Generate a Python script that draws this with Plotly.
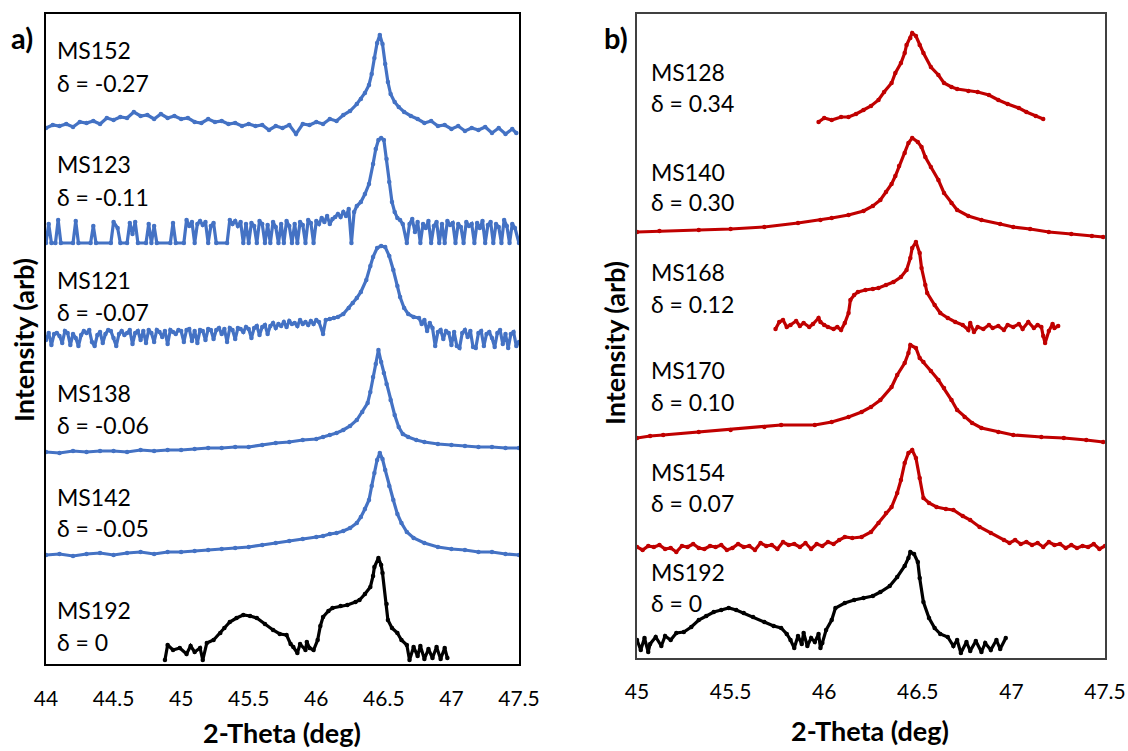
import plotly.graph_objects as go

# ---------------- Panel a) data (2-theta in deg, stacked intensity in arb units) ----------------
ms152_x = [44.00,44.05,44.10,44.15,44.20,44.25,44.30,44.35,44.40,44.45,44.50,44.55,44.60,44.65,44.70,44.75,44.80,44.85,44.90,44.95,
           45.00,45.05,45.10,45.15,45.20,45.25,45.30,45.35,45.40,45.45,45.50,45.55,45.60,45.65,45.70,45.75,45.80,45.85,45.90,45.95,
           46.00,46.05,46.10,46.15,46.20,46.25,46.30,46.33,46.36,46.39,46.41,46.43,46.45,46.47,46.49,46.51,46.53,46.55,46.58,46.61,
           46.65,46.70,46.75,46.80,46.85,46.90,46.95,47.00,47.05,47.10,47.15,47.20,47.25,47.30,47.35,47.40,47.45,47.48]
ms152_y = [536,539,538,540,537,542,541,543,540,546,544,547,546,552,548,549,545,550,546,548,
           545,546,542,541,545,542,543,540,541,538,540,538,539,534,538,536,539,530,540,539,
           542,540,545,543,549,553,560,565,571,579,590,606,621,629,620,600,582,570,562,557,
           552,548,545,541,543,538,539,535,538,533,536,534,537,531,536,530,535,531]

ms123_x = [44.00,44.02,44.04,44.07,44.09,44.11,44.20,44.22,44.24,44.33,44.35,44.37,44.48,44.50,44.53,44.55,44.60,44.62,44.64,44.66,
           44.68,44.74,44.76,44.78,44.80,44.82,44.92,44.94,44.96,45.02,45.04,45.06,45.08,45.10,45.12,45.14,45.16,45.18,45.20,45.22,
           45.24,45.26,45.34,45.36,45.38,45.40,45.42,45.44,45.46,45.48,45.50,45.52,45.54,45.56,45.58,45.60,45.62,45.64,45.66,45.68,
           45.70,45.72,45.74,45.76,45.78,45.80,45.82,45.84,45.86,45.88,45.90,45.92,45.94,45.96,45.98,46.00,46.02,46.04,46.06,46.08,
           46.10,46.12,46.14,46.16,46.18,46.20,46.22,46.24,46.26,46.28,46.30,46.33,46.36,46.39,46.42,46.44,46.46,46.48,46.50,46.52,
           46.54,46.56,46.58,46.60,46.62,46.64,46.67,46.69,46.71,46.73,46.75,46.77,46.79,46.81,46.83,46.85,46.87,46.89,46.91,46.93,
           46.95,46.97,46.99,47.01,47.03,47.05,47.07,47.09,47.11,47.13,47.15,47.17,47.19,47.21,47.23,47.25,47.27,47.29,47.31,47.33,
           47.35,47.37,47.39,47.41,47.43,47.45,47.47,47.50]
ms123_y = [421,440,421,421,444,421,421,443,421,421,438,421,421,442,436,421,421,441,430,442,
           421,421,440,421,438,421,421,441,421,421,444,438,442,421,440,443,439,442,421,438,
           441,421,421,444,440,443,438,442,421,440,421,441,438,421,443,440,421,439,421,442,
           437,421,440,421,443,438,421,440,421,442,439,421,444,441,421,443,440,446,442,448,
           440,445,447,450,447,452,448,455,421,452,458,462,470,480,500,515,524,526,524,505,
           482,462,452,446,444,440,421,440,445,432,442,421,440,436,443,421,438,442,421,440,
           421,443,439,441,421,440,437,421,442,438,440,421,441,436,443,421,439,442,421,440,
           437,421,444,438,421,440,436,421]

ms121_x = [44.00,44.02,44.04,44.06,44.08,44.10,44.12,44.14,44.16,44.18,44.20,44.22,44.24,44.26,44.28,44.30,44.32,44.34,44.36,44.38,
           44.40,44.42,44.44,44.46,44.48,44.50,44.52,44.54,44.56,44.58,44.60,44.62,44.64,44.66,44.68,44.70,44.72,44.74,44.76,44.78,
           44.80,44.82,44.84,44.86,44.88,44.90,44.92,44.94,44.96,44.98,45.00,45.02,45.04,45.06,45.08,45.10,45.12,45.14,45.16,45.18,
           45.20,45.22,45.24,45.26,45.28,45.30,45.32,45.34,45.36,45.38,45.40,45.42,45.44,45.46,45.48,45.50,45.52,45.54,45.56,45.58,
           45.60,45.62,45.64,45.66,45.68,45.70,45.72,45.74,45.76,45.78,45.80,45.82,45.84,45.86,45.88,45.90,45.92,45.94,45.96,45.98,
           46.00,46.02,46.05,46.07,46.10,46.13,46.16,46.20,46.24,46.27,46.30,46.33,46.37,46.40,46.42,46.45,46.48,46.51,46.54,46.57,
           46.60,46.62,46.65,46.68,46.72,46.76,46.78,46.80,46.82,46.84,46.86,46.88,46.90,46.92,46.94,46.96,46.98,47.00,47.02,47.04,
           47.06,47.08,47.10,47.12,47.14,47.16,47.18,47.20,47.22,47.24,47.26,47.28,47.30,47.32,47.34,47.36,47.38,47.40,47.42,47.44,
           47.46,47.48,47.50]
ms121_y = [324,331,319,330,331,328,321,333,331,319,330,326,318,329,333,331,334,322,318,329,
           332,321,330,334,333,326,318,330,333,329,331,334,320,331,333,324,333,321,334,331,
           322,334,332,327,333,320,334,332,330,334,333,322,334,335,323,333,321,334,333,324,
           335,334,325,334,336,330,335,322,336,334,325,336,335,332,337,335,326,336,338,329,
           337,339,330,338,341,336,340,338,342,337,343,340,341,338,344,340,342,339,343,340,
           344,342,330,344,345,346,347,350,356,361,366,372,384,398,407,416,418,417,408,394,
           378,367,356,350,347,346,340,344,333,341,336,318,332,334,325,333,331,319,332,318,
           316,331,334,327,333,317,316,331,333,318,330,332,326,317,331,334,320,330,316,330,
           332,318,322]

ms138_x = [44.00,44.10,44.20,44.30,44.40,44.50,44.60,44.70,44.80,44.90,45.00,45.10,45.20,45.30,45.40,45.50,45.60,45.70,45.80,45.90,
           46.00,46.05,46.10,46.15,46.20,46.25,46.30,46.34,46.38,46.40,46.42,46.44,46.46,46.48,46.50,46.52,46.55,46.58,46.61,46.64,
           46.68,46.74,46.80,46.90,47.00,47.10,47.20,47.30,47.40,47.50]
ms138_y = [212,211,213,212,213,213,212,214,213,214,214,215,216,216,217,217,219,221,222,224,
           225,227,229,231,234,238,244,252,261,272,287,300,314,302,291,280,264,249,237,230,
           227,224,222,220,219,218,217,217,216,216]

ms142_x = [44.00,44.10,44.20,44.30,44.40,44.50,44.60,44.70,44.80,44.90,45.00,45.10,45.20,45.30,45.40,45.50,45.60,45.70,45.80,45.90,
           46.00,46.05,46.10,46.15,46.20,46.25,46.30,46.33,46.36,46.39,46.41,46.43,46.45,46.47,46.49,46.51,46.54,46.57,46.60,46.63,
           46.67,46.72,46.80,46.90,47.00,47.10,47.20,47.30,47.40,47.50]
ms142_y = [109,110,108,110,111,109,111,112,110,112,112,113,114,115,116,117,119,121,123,125,
           127,128,130,131,133,136,141,147,155,164,178,191,204,211,205,194,178,164,150,141,
           132,126,121,117,115,114,112,112,110,109]

ms192a_x = [44.88,44.90,44.94,44.99,45.04,45.07,45.10,45.14,45.16,45.19,45.24,45.29,45.32,45.36,45.41,45.46,45.51,45.56,45.62,45.68,
            45.73,45.78,45.81,45.83,45.86,45.88,45.92,45.93,45.95,45.98,46.01,46.03,46.05,46.09,46.12,46.18,46.23,46.29,46.32,46.36,
            46.40,46.42,46.43,46.46,46.48,46.49,46.52,46.53,46.56,46.60,46.63,46.67,46.69,46.72,46.75,46.77,46.80,46.83,46.86,46.89,
            46.92,46.95,46.97]
ms192a_y = [4,19,14,16,10,18,12,16,4,21,24,31,36,42,46,49,48,46,40,34,
            30,29,20,17,11,20,14,22,16,14,24,38,47,53,56,58,59,62,64,70,
            77,88,97,106,99,91,60,44,36,31,24,19,4,17,8,18,5,15,6,17,
            5,16,6]

# ---------------- Panel b) data ----------------
ms128_x = [45.97,46.00,46.04,46.09,46.13,46.17,46.21,46.25,46.29,46.32,46.36,46.38,46.41,46.43,46.44,46.46,46.47,46.49,46.51,46.53,
           46.57,46.61,46.64,46.68,46.71,46.77,46.82,46.88,46.93,46.98,47.04,47.08,47.13,47.17]
ms128_y = [536,540,538,541,541,544,548,552,558,566,575,585,595,605,613,620,625,622,613,605,
           591,583,575,571,569,567,566,563,558,554,550,546,542,539]

ms140_x = [45.00,45.12,45.33,45.50,45.68,45.86,45.98,46.04,46.13,46.21,46.26,46.30,46.33,46.36,46.38,46.40,46.43,46.45,46.47,46.50,
           46.52,46.54,46.57,46.61,46.64,46.68,46.71,46.77,46.84,46.94,47.01,47.10,47.20,47.32,47.43,47.49]
ms140_y = [426,427,428,429,431,435,438,440,443,447,452,458,466,474,482,492,505,515,520,516,
           511,501,491,478,465,455,448,442,438,434,431,429,426,424,422,421]

ms168_x = [45.74,45.76,45.78,45.80,45.82,45.85,45.87,45.89,45.92,45.94,45.97,45.98,46.00,46.02,46.05,46.07,46.09,46.11,46.13,46.14,
           46.16,46.18,46.22,46.26,46.29,46.33,46.37,46.41,46.44,46.46,46.47,46.49,46.51,46.52,46.54,46.55,46.59,46.62,46.66,46.70,
           46.74,46.77,46.78,46.80,46.82,46.85,46.88,46.90,46.93,46.96,46.98,47.01,47.04,47.06,47.09,47.12,47.14,47.16,47.17,47.18,
           47.20,47.22,47.23,47.25]
ms168_y = [329,336,338,331,333,337,332,335,331,334,340,336,333,331,329,331,328,335,345,358,
           363,366,368,369,370,373,376,381,388,400,410,416,405,390,373,365,353,345,340,336,
           333,328,335,326,331,329,333,330,332,328,333,331,334,329,336,330,333,331,322,315,
           327,334,330,332]

ms170_x = [45.00,45.07,45.14,45.33,45.50,45.68,45.77,45.95,46.04,46.13,46.20,46.25,46.30,46.36,46.39,46.43,46.45,46.46,46.49,46.51,
           46.53,46.57,46.61,46.64,46.68,46.71,46.75,46.79,46.84,46.93,47.01,47.16,47.28,47.40,47.49]
ms170_y = [220,222,223,226,228,231,233,233,236,241,246,251,258,271,283,295,305,313,310,300,
           296,287,278,270,258,248,241,235,230,226,223,221,220,218,216]

ms154_x = [45.00,45.03,45.06,45.09,45.12,45.15,45.18,45.21,45.24,45.27,45.30,45.33,45.36,45.39,45.42,45.45,45.48,45.51,45.54,45.57,
           45.60,45.63,45.66,45.69,45.72,45.75,45.78,45.81,45.84,45.87,45.90,45.93,45.96,45.99,46.02,46.05,46.08,46.11,46.15,46.20,
           46.25,46.29,46.33,46.36,46.39,46.41,46.43,46.45,46.47,46.49,46.51,46.53,46.56,46.60,46.65,46.69,46.74,46.78,46.83,46.89,
           46.96,46.99,47.02,47.05,47.08,47.11,47.14,47.17,47.20,47.23,47.26,47.29,47.32,47.35,47.38,47.41,47.44,47.47,47.50]
ms154_y = [111,108,112,111,113,109,110,106,112,111,114,110,109,112,111,113,108,110,114,111,
           112,108,115,112,113,109,116,113,114,111,115,109,114,112,116,114,118,121,120,121,
           126,135,145,151,165,178,195,205,208,200,180,160,155,151,149,148,142,138,131,125,
           118,115,118,114,116,113,115,111,116,113,114,110,113,110,112,111,114,109,112]

ms192b_x = [45.00,45.02,45.04,45.06,45.07,45.10,45.13,45.15,45.18,45.21,45.25,45.29,45.33,45.37,45.41,45.45,45.49,45.53,45.57,45.62,
            45.68,45.73,45.77,45.80,45.82,45.84,45.86,45.88,45.89,45.91,45.93,45.95,45.97,45.98,45.99,46.01,46.04,46.06,46.11,46.16,
            46.21,46.26,46.30,46.35,46.39,46.43,46.45,46.46,46.48,46.50,46.51,46.53,46.56,46.59,46.62,46.66,46.69,46.71,46.73,46.76,
            46.78,46.81,46.84,46.86,46.89,46.92,46.94,46.97]
ms192b_y = [18,8,20,6,14,21,12,22,18,25,26,31,38,42,46,48,50,48,45,41,
            36,32,30,24,18,10,22,14,25,12,20,16,24,10,15,28,38,50,55,58,
            60,62,66,72,81,92,100,106,104,96,80,56,40,30,24,21,12,18,5,16,
            7,17,6,15,8,18,9,20]

left_curves = [("MS152", "δ = -0.27", ms152_x, ms152_y, 50, 83),
               ("MS123", "δ = -0.11", ms123_x, ms123_y, 164, 197),
               ("MS121", "δ = -0.07", ms121_x, ms121_y, 280, 312),
               ("MS138", "δ = -0.06", ms138_x, ms138_y, 393, 425),
               ("MS142", "δ = -0.05", ms142_x, ms142_y, 497, 528),
               ("MS192", "δ = 0", ms192a_x, ms192a_y, 610, 642)]
right_curves = [("MS128", "δ = 0.34", ms128_x, ms128_y, 72, 103),
                ("MS140", "δ = 0.30", ms140_x, ms140_y, 172, 202),
                ("MS168", "δ = 0.12", ms168_x, ms168_y, 272, 304),
                ("MS170", "δ = 0.10", ms170_x, ms170_y, 370, 402),
                ("MS154", "δ = 0.07", ms154_x, ms154_y, 472, 503),
                ("MS192", "δ = 0", ms192b_x, ms192b_y, 572, 603)]

left_ticks = [44, 44.5, 45, 45.5, 46, 46.5, 47, 47.5]
right_ticks = [45, 45.5, 46, 46.5, 47, 47.5]

BLUE = "#4472C4"
RED = "#C00000"
BLACK = "#000000"

W, H = 1128, 751
fig = go.Figure()

def add(xs, ys, color, xa, ya):
    fig.add_trace(go.Scatter(x=xs, y=ys, mode="lines+markers", xaxis=xa, yaxis=ya,
                             line=dict(color=color, width=3.2),
                             marker=dict(color=color, size=4.5),
                             showlegend=False, hoverinfo="skip"))

annots = []
def label(px, py, text, size=23, bold=False, angle=0, anchor="left"):
    annots.append(dict(x=px / W, y=1 - py / H, xref="paper", yref="paper",
                       text=f"<b>{text}</b>" if bold else text, showarrow=False,
                       xanchor=anchor, yanchor="middle", textangle=angle,
                       font=dict(family="Lato, Carlito, sans-serif", size=size, color="black")))

for name, delta, xs, ys, y1, y2 in left_curves:
    add(xs, ys, BLACK if name == "MS192" else BLUE, "x", "y")
    label(55, y1, name)
    label(55, y2, delta)
for name, delta, xs, ys, y1, y2 in right_curves:
    add(xs, ys, BLACK if name == "MS192" else RED, "x2", "y2")
    label(649, y1, name)
    label(649, y2, delta)

label(22, 38, "a)", size=29, bold=True, anchor="center")
label(616, 38, "b)", size=29, bold=True, anchor="center")
label(282, 732, "2-Theta (deg)", size=27, bold=True, anchor="center")
label(870, 730, "2-Theta (deg)", size=27, bold=True, anchor="center")
label(23, 340, "Intensity (arb)", size=27, bold=True, angle=-90, anchor="center")
label(614, 343, "Intensity (arb)", size=27, bold=True, angle=-90, anchor="center")

axis_common = dict(showgrid=False, zeroline=False, showline=True, mirror=True, automargin=False)
tickfont = dict(family="Lato, Carlito, sans-serif", size=21, color="black")

fig.update_layout(
    width=W, height=H, margin=dict(l=0, r=0, t=0, b=0, autoexpand=False),
    paper_bgcolor="white", plot_bgcolor="white",
    annotations=annots,
    xaxis=dict(domain=[46 / W, 519 / W], range=[44, 47.5], tickvals=left_ticks,
               ticktext=[str(t) for t in left_ticks],
               ticks="outside", ticklen=15, tickcolor="rgba(0,0,0,0)",
               tickfont=tickfont, linecolor="black", linewidth=1.5, anchor="y", **axis_common),
    yaxis=dict(domain=[1 - 664 / H, 1 - 14 / H], range=[0, 650], showticklabels=False,
               linecolor="black", linewidth=1.5, anchor="x", **axis_common),
    xaxis2=dict(domain=[637 / W, 1105 / W], range=[45, 47.5], tickvals=right_ticks,
                ticktext=[str(t) for t in right_ticks],
                ticks="outside", ticklen=14, tickcolor="rgba(0,0,0,0)",
                tickfont=tickfont, linecolor="#404040", linewidth=1.8, anchor="y2", **axis_common),
    yaxis2=dict(domain=[1 - 658 / H, 1 - 14 / H], range=[0, 644], showticklabels=False,
                linecolor="#404040", linewidth=1.8, anchor="x2", **axis_common),
)

fig.write_html("out.html")
